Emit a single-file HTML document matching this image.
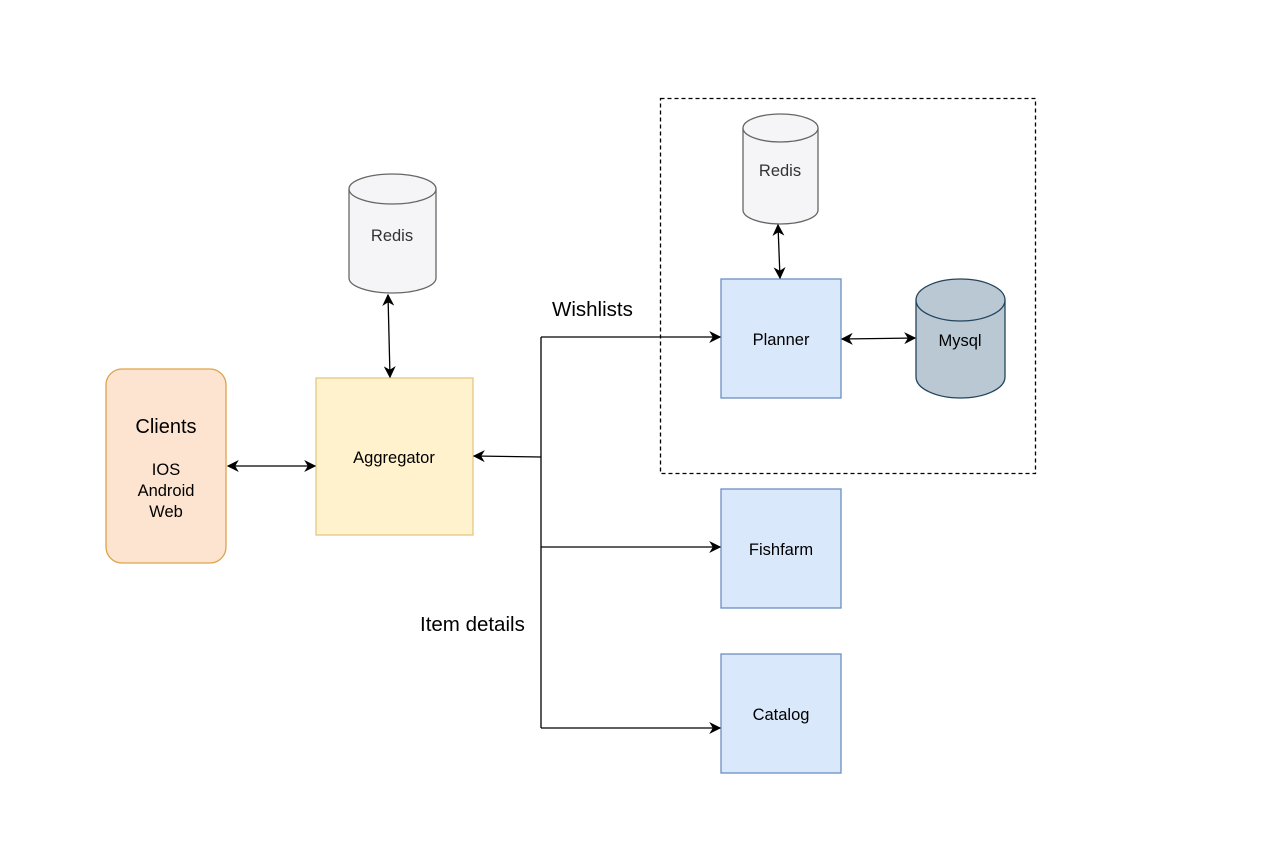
<!DOCTYPE html>
<html><head><meta charset="utf-8"><style>html,body{margin:0;padding:0;background:#fff}svg{display:block}text{font-family:"Liberation Sans",sans-serif}</style></head>
<body>
<svg width="1284" height="860" viewBox="0 0 1284 860" xmlns="http://www.w3.org/2000/svg">
<defs>
<marker id="a" viewBox="0 0 10 10" refX="9" refY="5" markerWidth="12" markerHeight="12" markerUnits="userSpaceOnUse" orient="auto-start-reverse">
<path d="M0,0 L10,5 L0,10 L3,5 Z" fill="#000"/></marker>
</defs>
<rect x="660.5" y="98.5" width="375" height="375" fill="none" stroke="#000" stroke-width="1.3" stroke-dasharray="4,3"/>
<rect x="106" y="369" width="120" height="194" rx="16" fill="#fce4d0" stroke="#dda24a" stroke-width="1.3"/>
<text x="166" y="433" font-size="20" text-anchor="middle">Clients</text>
<text x="166" y="475" font-size="16.5" text-anchor="middle">IOS</text>
<text x="166" y="496" font-size="16.5" text-anchor="middle">Android</text>
<text x="166" y="517" font-size="16.5" text-anchor="middle">Web</text>
<rect x="316" y="378" width="157" height="157" fill="#fff2cc" stroke="#e3c882" stroke-width="1.3"/>
<text x="394" y="463" font-size="16.5" text-anchor="middle">Aggregator</text>
<g fill="#f5f4f6" stroke="#666" stroke-width="1.3">
<path d="M349,189 L349,278 A43.5,15 0 0 0 436,278 L436,189"/>
<ellipse cx="392.5" cy="189" rx="43.5" ry="15"/>
<path d="M743,128 L743,210 A37.5,14 0 0 0 818,210 L818,128"/>
<ellipse cx="780.5" cy="128" rx="37.5" ry="14"/>
</g>
<text x="392" y="241" font-size="16.5" text-anchor="middle" fill="#333">Redis</text>
<text x="780" y="176" font-size="16.5" text-anchor="middle" fill="#333">Redis</text>
<g fill="#bac8d3" stroke="#23445d" stroke-width="1.3">
<path d="M916,300 L916,377 A44.5,21 0 0 0 1005,377 L1005,300"/>
<ellipse cx="960.5" cy="300" rx="44.5" ry="21"/>
</g>
<text x="960" y="346" font-size="16.5" text-anchor="middle">Mysql</text>
<g fill="#dae8fc" stroke="#6c8ebf" stroke-width="1.3">
<rect x="721" y="279" width="120" height="119"/>
<rect x="721" y="489" width="120" height="119"/>
<rect x="721" y="654" width="120" height="119"/>
</g>
<text x="781" y="345" font-size="16.5" text-anchor="middle">Planner</text>
<text x="781" y="555" font-size="16.5" text-anchor="middle">Fishfarm</text>
<text x="781" y="720" font-size="16.5" text-anchor="middle">Catalog</text>
<g stroke="#000" stroke-width="1.3" fill="none">
<line x1="228" y1="466" x2="315" y2="466" marker-start="url(#a)" marker-end="url(#a)"/>
<line x1="388" y1="295" x2="390" y2="377" marker-start="url(#a)" marker-end="url(#a)"/>
<line x1="778" y1="225" x2="780" y2="278" marker-start="url(#a)" marker-end="url(#a)"/>
<line x1="842" y1="339" x2="915" y2="338" marker-start="url(#a)" marker-end="url(#a)"/>
<polyline points="541,337 541,728"/>
<line x1="541" y1="337" x2="720" y2="337" marker-end="url(#a)"/>
<line x1="541" y1="547" x2="720" y2="547" marker-end="url(#a)"/>
<line x1="541" y1="728" x2="720" y2="728" marker-end="url(#a)"/>
<line x1="541" y1="457" x2="474" y2="456" marker-end="url(#a)"/>
</g>
<text x="552" y="316" font-size="20.5">Wishlists</text>
<text x="420" y="631" font-size="20.5">Item details</text>
</svg>
</body></html>
